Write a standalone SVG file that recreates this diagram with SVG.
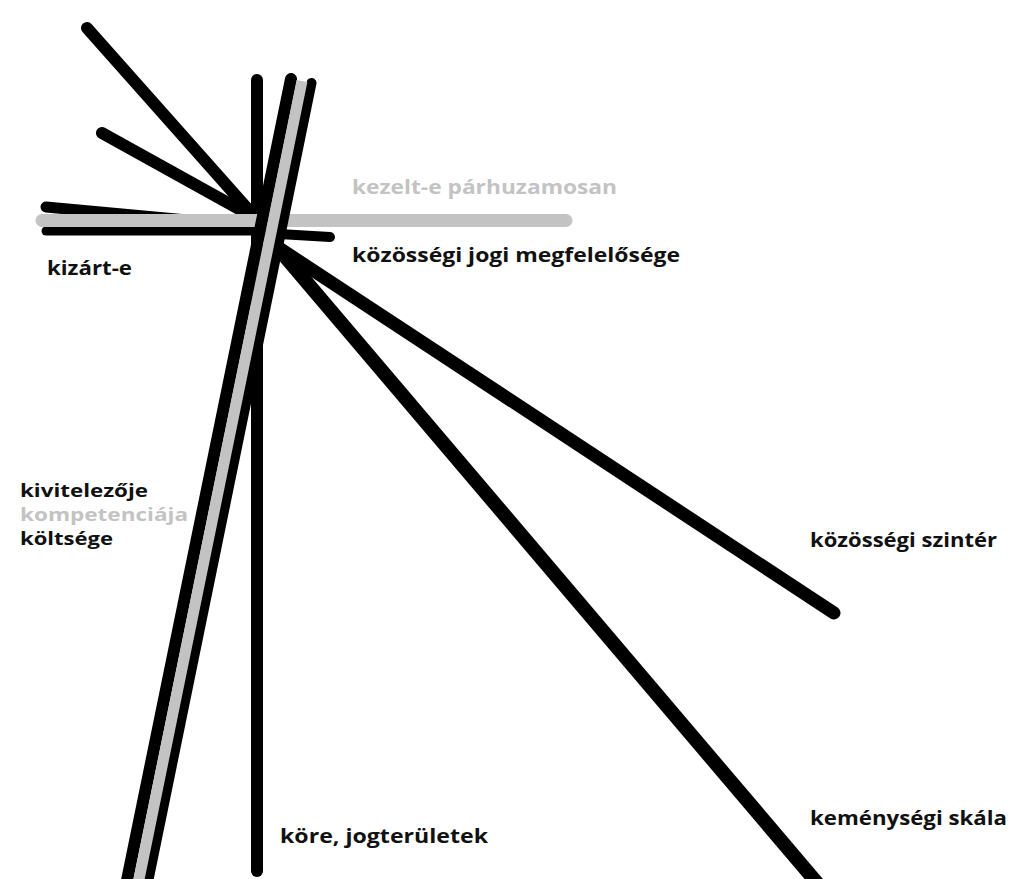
<svg xmlns="http://www.w3.org/2000/svg" width="1012" height="879" viewBox="0 0 1012 879">
<style>
.k{stroke:#000;stroke-linecap:round;fill:none}
.g{stroke:#c3c3c3;fill:none}
text{font-family:"Open Sans","Liberation Sans",sans-serif;font-weight:700;font-size:20px}
.s{font-size:18px}
.t{fill:#111}
.tg{fill:#c3c3c3}
</style>
<rect width="1012" height="879" fill="#fff"/>
<g id="lines">
<line class="k" x1="87" y1="28" x2="254" y2="216" stroke-width="12"/>
<line class="k" x1="102" y1="133" x2="248" y2="214" stroke-width="12"/>
<line class="k" x1="46" y1="207" x2="252" y2="226" stroke-width="11"/>
<line class="k" x1="46" y1="231" x2="262" y2="231" stroke-width="9"/>
<line class="k" x1="262" y1="233" x2="330" y2="237" stroke-width="10"/>
<line class="k" x1="257" y1="80" x2="257" y2="871" stroke-width="12"/>
<line class="k" x1="276" y1="246" x2="834" y2="613" stroke-width="13"/>
<line class="k" x1="276" y1="246" x2="818" y2="884" stroke-width="14"/>
<line class="g" x1="42" y1="220.5" x2="566" y2="220.5" stroke-width="13" stroke-linecap="round"/>
<line class="k" x1="291" y1="79" x2="124" y2="895" stroke-width="12"/>
<line class="k" x1="311.5" y1="83" x2="145.4" y2="895" stroke-width="10"/>
<line class="g" x1="302" y1="81" x2="135.8" y2="895" stroke-width="11"/>
</g>
<g id="labels">
<text class="tg" x="352" y="194" textLength="265" lengthAdjust="spacingAndGlyphs">kezelt-e párhuzamosan</text>
<text class="t" x="352" y="262" textLength="328" lengthAdjust="spacingAndGlyphs">közösségi jogi megfelelősége</text>
<text class="t" x="47" y="275" textLength="85" lengthAdjust="spacingAndGlyphs">kizárt-e</text>
<text class="t s" x="20" y="497" textLength="128" lengthAdjust="spacingAndGlyphs">kivitelezője</text>
<text class="tg s" x="20" y="521" textLength="168" lengthAdjust="spacingAndGlyphs">kompetenciája</text>
<text class="t s" x="20" y="545" textLength="93" lengthAdjust="spacingAndGlyphs">költsége</text>
<text class="t" x="280" y="843" textLength="208" lengthAdjust="spacingAndGlyphs">köre, jogterületek</text>
<text class="t" x="810" y="547" textLength="187" lengthAdjust="spacingAndGlyphs">közösségi szintér</text>
<text class="t" x="810" y="825" textLength="197" lengthAdjust="spacingAndGlyphs">keménységi skála</text>
</g>
</svg>
